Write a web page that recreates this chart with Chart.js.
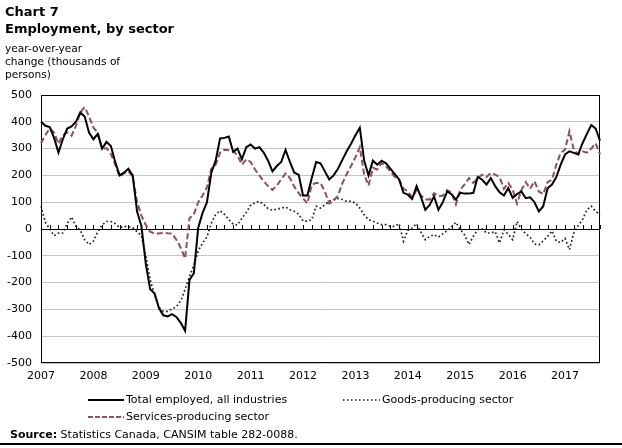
<!DOCTYPE html>
<html>
<head>
<meta charset="utf-8">
<script src="https://cdn.jsdelivr.net/npm/chart.js@4.4.1/dist/chart.umd.min.js"></script>
<style>
  body { margin: 0; background: #fff; font-family: "DejaVu Sans", Verdana, sans-serif; color: #000; }
  #wrap { position: relative; width: 622px; height: 448px; overflow: hidden; }
  canvas { position: absolute; left: 0; top: 0; }
  .t { position: absolute; white-space: nowrap; line-height: 1; }
  .title { font-weight: bold; font-size: 13px; left: 5px; }
  .sub { font-size: 10.6px; left: 5px; }
  .leg { font-size: 11px; display: flex; align-items: center; }
  .leg svg { margin-right: 2px; }
  #rule { position: absolute; left: 0; top: 443px; width: 622px; height: 2px; background: #000; }
</style>
</head>
<body>
<div id="wrap">
  <canvas id="chart" width="622" height="448"></canvas>
  <div class="t title" style="top:5px">Chart 7</div>
  <div class="t title" style="top:22px">Employment, by sector</div>
  <div class="t sub" style="top:43px">year-over-year</div>
  <div class="t sub" style="top:56px">change (thousands of</div>
  <div class="t sub" style="top:69px">persons)</div>

  <div class="t leg" style="left:88px;top:394px">
    <svg width="36" height="6"><line x1="0" y1="3" x2="36" y2="3" stroke="#000" stroke-width="2"/></svg>
    Total employed, all industries
  </div>
  <div class="t leg" style="left:88px;top:411px">
    <svg width="36" height="6"><line x1="0" y1="3" x2="36" y2="3" stroke="#8c4f5e" stroke-width="2" stroke-dasharray="5 2"/></svg>
    Services-producing sector
  </div>
  <div class="t leg" style="left:343px;top:394px">
    <svg width="37" height="6"><line x1="0" y1="3" x2="37" y2="3" stroke="#222" stroke-width="1.5" stroke-dasharray="1.5 2.5"/></svg>
    Goods-producing sector
  </div>
  <div class="t" style="left:10px;top:429px;font-size:11px"><b>Source:</b> Statistics Canada, CANSIM table 282-0088.</div>
  <div id="rule"></div>
</div>

<script>
// monthly, January 2007 to September 2017
const firstYear = 2007;
const monthCount = 129;

const totalEmployed = [
    400, 385, 380, 340, 285, 335, 375, 383, 400, 435, 420, 360,
    335, 355, 300, 325, 310, 250, 200, 210, 225, 200, 65, 10,
    -130, -225, -240, -295, -322, -326, -318, -328, -350, -380, -190, -165,
    5, 60, 100, 210, 255, 338, 340, 345, 288, 300, 260, 305,
    315, 300, 305, 285, 255, 215, 235, 250, 295, 250, 210, 203,
    125, 125, 190, 250, 245, 215, 185, 200, 225, 258, 290, 318,
    350, 378, 255, 200, 255, 240, 255, 245, 225, 205, 185, 135,
    128, 112, 160, 120, 72, 90, 122, 72, 100, 140, 130, 110,
    135, 132, 132, 135, 194, 184, 166, 190, 160, 137, 125, 153,
    116, 130, 140, 115, 118, 100, 66, 85, 152, 166, 194, 240,
    278, 290, 284, 278, 320, 355, 388, 375, 330
];

const servicesSector = [
    320, 350, 375, 360, 318, 350, 360, 348, 385, 435, 455, 420,
    378, 360, 298, 302, 280, 240, 195, 208, 215, 195, 100, 50,
    15, -10, -17, -17, -14, -16, -17, -40, -70, -110, 40, 55,
    100, 125, 155, 225, 240, 285, 296, 294, 290, 275, 240, 260,
    250, 222, 200, 178, 160, 146, 162, 185, 207, 190, 158, 134,
    115, 95, 165, 172, 172, 140, 95, 105, 125, 170, 205, 235,
    268, 305, 203, 162, 228, 222, 246, 234, 215, 194, 184, 150,
    141, 118, 145, 125, 110, 110, 134, 122, 125, 145, 135, 92,
    147, 166, 190, 172, 190, 203, 194, 209, 203, 194, 150, 172,
    147, 95, 145, 175, 150, 178, 140, 130, 175, 184, 240, 284,
    296, 365, 296, 278, 290, 285, 300, 320, 278
];

const goodsSector = [
    85, 25, 0, -25, -15, -15, 20, 45, 10, -5, -40, -58,
    -45, -10, 15, 28, 28, 20, 5, 10, 8, 5, -10, -25,
    -100, -190, -245, -292, -307, -307, -298, -290, -268, -225, -177, -135,
    -82, -52, -30, 22, 55, 68, 55, 35, 18, 15, 40, 62,
    88, 98, 103, 92, 76, 70, 74, 78, 82, 72, 66, 55,
    30, 29, 35, 85, 78, 90, 103, 110, 114, 110, 103, 103,
    97, 78, 53, 35, 29, 22, 16, 16, 10, 10, 20, -46,
    -5, 4, 20, -12, -40, -28, -21, -30, -18, -6, 8, 25,
    -2, -22, -58, -27, -2, 0, -15, -15, -10, -52, -3, -20,
    -40, 28, 0, -18, -30, -56, -59, -44, -28, -7, -46, -50,
    -35, -77, -15, 12, 35, 72, 85, 66, 53
];

const yTicks = [500, 400, 300, 200, 100, 0, -100, -200, -300, -400, -500];

const monthLabels = [];
for (let i = 0; i < monthCount; i++) {
    const y = firstYear + Math.floor(i / 12);
    const m = (i % 12) + 1;
    monthLabels.push(y + '-' + (m < 10 ? '0' + m : m));
}

const frameAndTicks = {
    id: 'frameAndTicks',
    beforeDatasetsDraw(chart) {
        const { ctx, chartArea: a, scales } = chart;
        const y0 = scales.y.getPixelForValue(0);
        ctx.save();
        ctx.strokeStyle = '#000';
        ctx.lineWidth = 1;
        ctx.beginPath();
        for (let i = 0; i < monthCount; i += 2) {
            const x = Math.round(scales.x.getPixelForValue(i)) + 0.5;
            ctx.moveTo(x, y0);
            ctx.lineTo(x, y0 - 4);
        }
        ctx.stroke();
        ctx.strokeRect(a.left + 0.5, a.top + 0.5, a.right - a.left - 1, a.bottom - a.top - 1);
        ctx.restore();
    }
};

Chart.defaults.font.family = "'DejaVu Sans', Verdana, sans-serif";
Chart.defaults.font.size = 11;
Chart.defaults.color = '#000';

new Chart(document.getElementById('chart'), {
    type: 'line',
    data: {
        labels: monthLabels,
        datasets: [
            { label: 'Total employed, all industries', data: totalEmployed, borderColor: '#000', borderWidth: 2 },
            { label: 'Services-producing sector', data: servicesSector, borderColor: '#8c4f5e', borderWidth: 2, borderDash: [6, 3] },
            { label: 'Goods-producing sector', data: goodsSector, borderColor: '#222', borderWidth: 1.7, borderDash: [1.7, 2.4] }
        ]
    },
    options: {
        responsive: false,
        animation: false,
        elements: { point: { radius: 0 }, line: { tension: 0, fill: false } },
        layout: { padding: { top: 95, right: 22, left: 0, bottom: 0 } },
        plugins: { legend: { display: false }, tooltip: { enabled: false } },
        scales: {
            x: {
                offset: false,
                grid: { display: false, drawTicks: false },
                border: { display: false },
                ticks: {
                    autoSkip: false,
                    maxRotation: 0,
                    padding: 7,
                    callback: (v, i) => (i % 12 === 0 ? String(firstYear + i / 12) : '')
                },
                afterFit: s => { s.height = 85; }
            },
            y: {
                min: -500,
                max: 500,
                afterBuildTicks: s => { s.ticks = yTicks.map(v => ({ value: v })); },
                grid: {
                    drawTicks: false,
                    color: c => (c.tick && c.tick.value === 0 ? '#000' : '#c4c4c4'),
                    lineWidth: 1
                },
                border: { display: false },
                ticks: { padding: 9 },
                afterFit: s => { s.width = 41; }
            }
        }
    },
    plugins: [frameAndTicks]
});
</script>
</body>
</html>
